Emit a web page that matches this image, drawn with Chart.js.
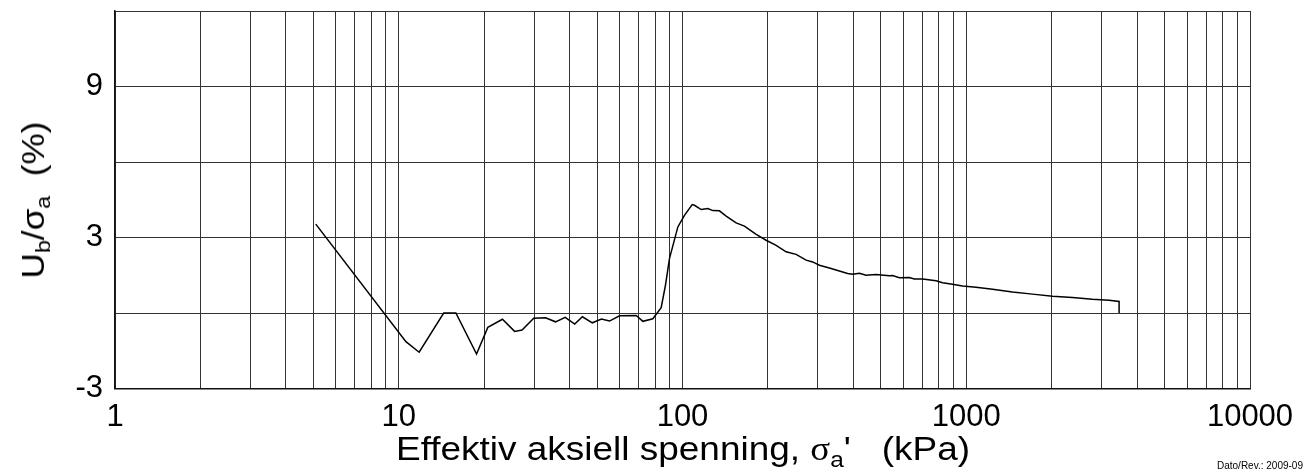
<!DOCTYPE html>
<html>
<head>
<meta charset="utf-8">
<script src="https://cdn.jsdelivr.net/npm/chart.js@4"></script>
<style>
  html, body { margin: 0; padding: 0; background: #fff; }
  #wrap { position: relative; width: 1306px; height: 474px; overflow: hidden; font-family: 'Liberation Sans', Arial, sans-serif; color: #000; }
  canvas { position: absolute; left: 0; top: 0; }
  .lbl { position: absolute; white-space: pre; line-height: 1; }
  .lbl sub { font-size: 0.66em; vertical-align: -0.3em; line-height: 0; }
  .sym { font-family: 'Liberation Serif', 'DejaVu Serif', serif; }
  #ytitle { left: 33px; top: 200px; font-size: 32px; transform: translate(-50%, -50%) rotate(-90deg) scaleX(1.1); }
  #xtitle { left: 683px; top: 432px; font-size: 33px; transform: translateX(-50%) scaleX(1.12); }
  #stamp { left: 1217px; top: 461px; font-size: 10px; }
</style>
</head>
<body>
<div id="wrap">
  <canvas id="c" width="1306" height="474"></canvas>
  <div class="lbl" id="ytitle">U<sub>b</sub>/σ<sub>a</sub>  (%)</div>
  <div class="lbl" id="xtitle">Effektiv aksiell spenning, <span class="sym">σ</span><sub>a</sub>'   (kPa)</div>
  <div class="lbl" id="stamp">Dato/Rev.: 2009-09</div>
</div>
<script>
// Effective axial stress (kPa)
const stress = [5.1, 10.6, 11.8, 14.4, 15.9, 18.8, 20.6, 23.2, 25.6, 27.2, 29.9, 32.9,
  35.7, 38.6, 41.7, 44.4, 48.1, 51.8, 55.3, 60.0, 68.7, 72.5, 78.6, 84.1, 87.1, 90.0,
  96.3, 101.6, 108.2, 110.2, 116.4, 122.8, 127.9, 135.0, 142.5, 154.5, 165.3, 181.8,
  197.1, 213.8, 231.8, 251.4, 272.7, 287.5, 303.7, 329.3, 357.1, 382, 397.8, 420.2,
  443.6, 480.8, 535.6, 550.2, 580.8, 630, 655.9, 702, 782.3, 825.2, 883.1, 970.5,
  1082, 1238, 1455, 1712, 2014, 2367, 2784, 3188, 3457, 3457];
// Pore pressure ratio Ub / sigma_a (%)
const ratio = [3.53, -1.14, -1.56, 0.0, 0.0, -1.63, -0.57, -0.25, -0.73, -0.68, -0.21, -0.19,
  -0.35, -0.17, -0.44, -0.15, -0.39, -0.24, -0.32, -0.11, -0.10, -0.33, -0.23, 0.21, 1.11, 2.17,
  3.42, 3.88, 4.31, 4.28, 4.11, 4.15, 4.07, 4.06, 3.85, 3.58, 3.45, 3.12,
  2.89, 2.69, 2.43, 2.33, 2.10, 2.03, 1.90, 1.79, 1.67, 1.57, 1.54, 1.58,
  1.50, 1.53, 1.48, 1.49, 1.40, 1.41, 1.35, 1.35, 1.28, 1.20, 1.15, 1.07,
  1.02, 0.94, 0.83, 0.75, 0.67, 0.62, 0.55, 0.51, 0.46, 0.0];
// Axis extents and labelled ticks
const xRange = [1, 10000];
const xLabelled = [1, 10, 100, 1000, 10000];
const yRange = [-3, 12];
const yStep = 3;
const yLabelled = [-3, 3, 9];

const points = stress.map((s, i) => ({ x: s, y: ratio[i] }));
const tickFont = { family: "'Liberation Sans', Arial, sans-serif", size: 31 };

new Chart(document.getElementById('c'), {
  type: 'line',
  data: {
    datasets: [{
      data: points,
      borderColor: '#000',
      borderWidth: 1.5,
      pointRadius: 0,
      tension: 0,
      fill: false
    }]
  },
  options: {
    responsive: false,
    animation: false,
    devicePixelRatio: 1,
    layout: { padding: { left: 0, right: 56, top: 11, bottom: 0 } },
    plugins: { legend: { display: false }, tooltip: { enabled: false } },
    scales: {
      x: {
        type: 'logarithmic',
        min: xRange[0], max: xRange[1],
        afterFit: s => { s.height = 85.5; s.paddingLeft = 0; s.paddingRight = 0; },
        afterBuildTicks: s => {
          const t = [];
          for (let d = 1; d < xRange[1]; d *= 10) {
            for (let m = 1; m < 10; m++) t.push({ value: d * m });
          }
          t.push({ value: xRange[1] });
          s.ticks = t;
        },
        ticks: {
          autoSkip: false, maxRotation: 0, color: '#000', font: tickFont, padding: 10,
          callback: v => xLabelled.includes(v) ? String(v) : ''
        },
        grid: { color: '#333', lineWidth: 1, drawTicks: false },
        border: { display: true, color: '#111', width: 1.5 }
      },
      y: {
        min: yRange[0], max: yRange[1],
        afterFit: s => { s.width = 115; s.paddingTop = 0; s.paddingBottom = 0; },
        ticks: {
          stepSize: yStep, color: '#000', font: tickFont, padding: 12,
          callback: v => yLabelled.includes(v) ? String(v) : ''
        },
        grid: { color: '#333', lineWidth: 1, drawTicks: false },
        border: { display: true, color: '#111', width: 1.5 }
      }
    }
  }
});
</script>
</body>
</html>
